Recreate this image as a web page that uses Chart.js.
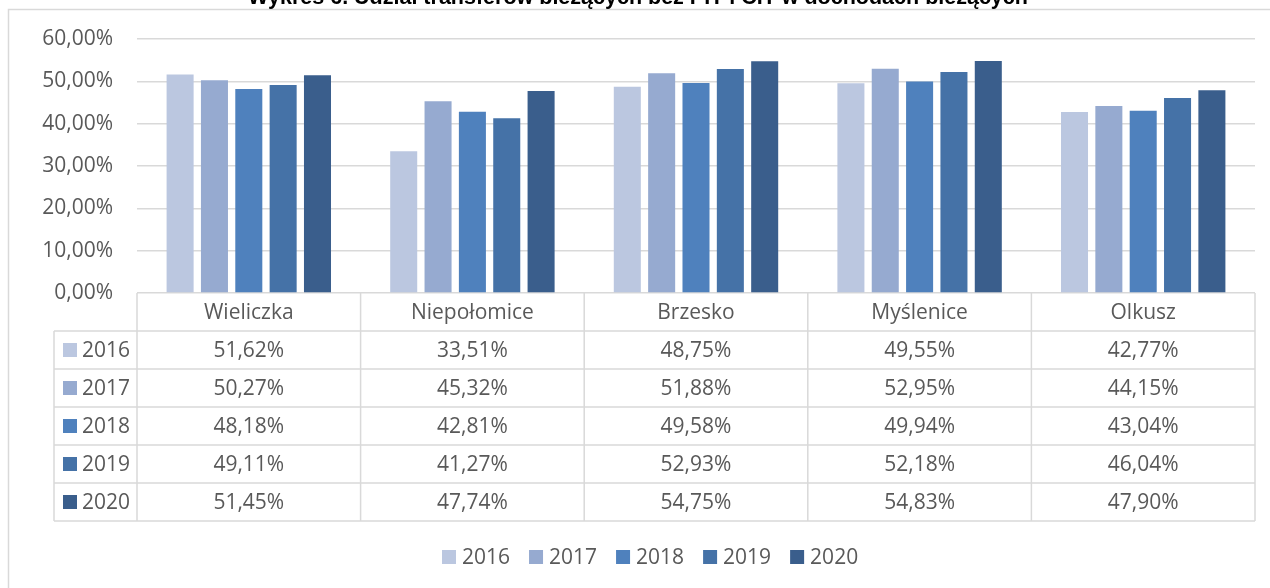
<!DOCTYPE html>
<html>
<head>
<meta charset="utf-8">
<script src="https://cdn.jsdelivr.net/npm/chart.js@4"></script>
<style>
  body { margin: 0; background: #fff; }
</style>
</head>
<body>
<canvas id="myChart" width="1270" height="588"></canvas>
<script>
// dane z wykresu
const gminy = ['Wieliczka', 'Niepołomice', 'Brzesko', 'Myślenice', 'Olkusz'];
const lata = ['2016', '2017', '2018', '2019', '2020'];
const r2016 = [51.62, 33.51, 48.75, 49.55, 42.77];
const r2017 = [50.27, 45.32, 51.88, 52.95, 44.15];
const r2018 = [48.18, 42.81, 49.58, 49.94, 43.04];
const r2019 = [49.11, 41.27, 52.93, 52.18, 46.04];
const r2020 = [51.45, 47.74, 54.75, 54.83, 47.90];
const kolory = ['#BBC7E0', '#96AAD0', '#4F81BD', '#4572A7', '#3A5E8C'];
const tytul = 'Wykres 6. Udział transferów bieżących bez PIT i CIT w dochodach bieżących';

const seria = [r2016, r2017, r2018, r2019, r2020];
const FONT = '"Open Sans", sans-serif';
const SZARY = '#595959';
const LINIA = '#D9D9D9';

function proc(v) {
  return v.toFixed(2).replace('.', ',') + '%';
}

// tabela danych + legenda + ramka
const tabela = {
  id: 'tabela',
  afterDraw(chart) {
    const c = chart.ctx;
    const x = chart.scales.x;
    const area = chart.chartArea;
    const n = gminy.length;
    const w = (x.right - x.left) / n;
    const top = area.bottom;
    const headH = 38;
    const rowH = 38;
    const legL = 54;
    const bottom = top + headH + rowH * lata.length;

    c.save();
    // ramka wykresu
    c.strokeStyle = LINIA;
    c.lineWidth = 1.5;
    c.beginPath();
    c.moveTo(8.5, 588);
    c.lineTo(8.5, 9.5);
    c.lineTo(1270, 9.5);
    c.stroke();

    // tytul (ucięty u góry)
    c.fillStyle = '#000';
    c.font = 'bold 21.5px "Liberation Sans", Arial, sans-serif';
    c.textAlign = 'center';
    c.textBaseline = 'alphabetic';
    c.fillText(tytul, 638, 4);

    // linie tabeli
    c.strokeStyle = LINIA;
    c.lineWidth = 1.5;
    c.beginPath();
    for (let i = 0; i <= n; i++) {
      const px = x.left + i * w;
      c.moveTo(px, top);
      c.lineTo(px, bottom);
    }
    c.moveTo(legL, top + headH);
    c.lineTo(legL, bottom);
    for (let r = 0; r <= lata.length; r++) {
      const py = top + headH + r * rowH;
      c.moveTo(legL, py);
      c.lineTo(x.right, py);
    }
    c.stroke();

    c.font = '21px ' + FONT;
    c.fillStyle = SZARY;
    c.textBaseline = 'middle';
    c.textAlign = 'center';
    gminy.forEach((g, i) => {
      c.fillText(g, x.getPixelForValue(i), top + headH / 2 + 1);
    });
    lata.forEach((rok, r) => {
      const cy = top + headH + r * rowH + rowH / 2 + 1;
      c.fillStyle = kolory[r];
      c.fillRect(63, cy - 8, 14, 14);
      c.fillStyle = SZARY;
      c.textAlign = 'left';
      c.fillText(rok, 82, cy);
      c.textAlign = 'center';
      seria[r].forEach((v, i) => {
        c.fillText(proc(v), x.getPixelForValue(i), cy);
      });
    });

    // legenda na dole
    let lx = 442;
    const ly = 557;
    c.textAlign = 'left';
    lata.forEach((rok, r) => {
      c.fillStyle = kolory[r];
      c.fillRect(lx, ly - 7, 14, 14);
      c.fillStyle = SZARY;
      c.fillText(rok, lx + 20, ly + 1);
      lx += 20 + c.measureText(rok).width + 19;
    });
    c.restore();
  }
};

const ctx = document.getElementById('myChart');

new Chart(ctx, {
  type: 'bar',
  data: {
    labels: gminy,
    datasets: lata.map((rok, i) => ({
      label: rok,
      data: seria[i],
      backgroundColor: kolory[i],
      borderWidth: 0,
      categoryPercentage: 0.768,
      barPercentage: 0.787
    }))
  },
  options: {
    responsive: false,
    animation: false,
    layout: {
      padding: { left: 0, right: 15, top: 39, bottom: 295 }
    },
    plugins: {
      legend: false,
      tooltip: { enabled: false }
    },
    scales: {
      x: { display: false },
      y: {
        min: 0,
        max: 60,
        ticks: {
          stepSize: 10,
          padding: 24,
          color: SZARY,
          font: { family: FONT, size: 21 },
          callback: (v) => proc(v)
        },
        grid: { color: LINIA, lineWidth: 1.5, drawTicks: false },
        border: { display: false },
        afterFit(scale) { scale.width = 137; }
      }
    }
  },
  plugins: [tabela]
});
</script>
</body>
</html>
